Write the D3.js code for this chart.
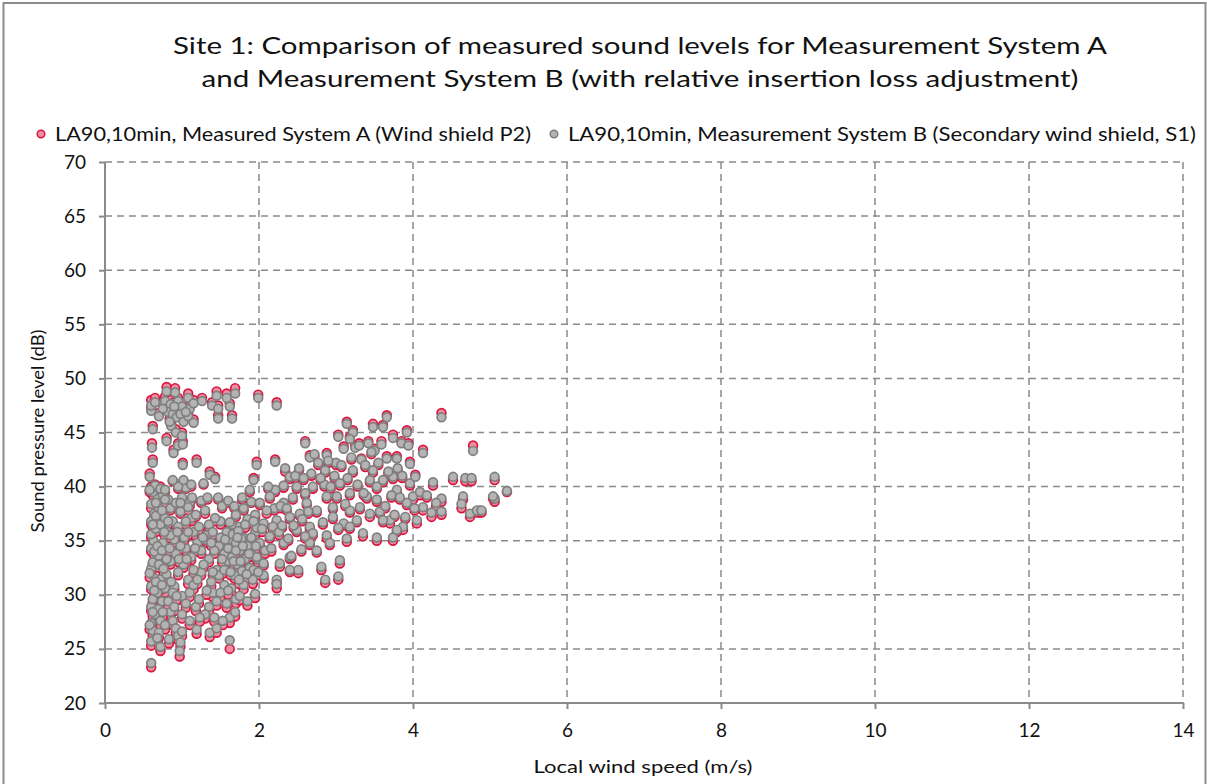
<!DOCTYPE html>
<html>
<head>
<meta charset="utf-8">
<script src="https://cdn.jsdelivr.net/npm/d3@7"></script>
<style>
  html, body { margin: 0; padding: 0; background: #fff; }
  svg { display: block; font-family: Lato, "Open Sans", sans-serif; }
</style>
</head>
<body>
<svg id="chart" width="1207" height="784"></svg>
<script>
// ---------------- DATA ----------------
const titleLines = [
  "Site 1: Comparison of measured sound  levels for Measurement System A",
  "and Measurement System B (with relative insertion loss adjustment)"
];
const seriesNames = [
  "LA90,10min, Measured System A (Wind shield P2)",
  "LA90,10min, Measurement System B  (Secondary wind shield, S1)"
];
const xTicks = [0, 2, 4, 6, 8, 10, 12, 14];
const yTicks = [20, 25, 30, 35, 40, 45, 50, 55, 60, 65, 70];
const xTitle = "Local wind speed (m/s)";
const yTitle = "Sound pressure  level (dB)";

// local wind speed (m/s) for each 10-minute period
const windSpeed = [
0.60,0.60,0.62,0.60,0.65,0.60,0.62,0.68,0.60,0.65,0.60,0.62,0.70,0.60,0.63,0.60,0.66,0.60,0.64,0.60,
0.68,0.62,0.60,0.65,0.58,0.62,0.61,0.62,0.60,0.60,0.65,0.72,0.70,0.72,0.70,0.74,0.72,0.70,0.75,0.72,
0.70,0.75,0.72,0.80,0.91,0.78,0.85,0.95,1.00,1.08,1.10,1.15,1.26,0.82,0.88,0.93,0.98,1.02,1.08,0.86,
0.92,1.00,0.80,0.95,1.15,0.89,1.01,1.01,1.19,1.36,1.43,1.39,1.45,1.58,1.69,1.47,1.62,1.47,1.65,1.99,
2.23,0.75,0.70,0.90,1.05,0.84,0.78,0.82,0.85,0.88,0.80,0.90,0.95,0.98,1.00,1.05,1.10,1.12,1.15,1.18,
0.92,0.85,0.80,0.78,0.82,0.85,0.88,0.92,0.95,0.98,0.97,1.00,0.90,0.95,1.00,1.02,1.05,1.08,1.10,1.12,
1.15,1.18,1.19,1.22,1.25,1.20,1.22,1.25,1.28,1.30,1.32,1.35,1.38,1.35,1.36,1.42,1.45,1.40,1.45,1.48,
1.50,1.52,1.55,1.58,1.60,1.62,1.65,1.68,1.70,1.62,1.62,1.69,1.55,1.60,1.65,1.70,1.75,1.80,1.85,1.90,
1.95,1.72,1.78,1.82,1.88,1.92,1.98,1.58,1.62,1.70,1.75,1.80,1.85,1.90,1.95,2.00,1.50,1.52,1.48,1.55,
1.66,1.73,1.77,1.64,1.75,1.80,1.85,1.95,1.97,2.21,1.93,2.60,2.66,2.34,3.14,3.66,3.48,3.61,3.92,3.22,
3.18,3.03,3.42,3.74,3.85,3.59,3.10,2.88,3.33,3.66,3.79,3.96,4.13,4.37,4.78,4.52,4.68,4.76,5.06,5.22,
4.26,4.65,4.63,4.74,4.87,5.06,4.37,4.37,4.24,4.13,4.00,3.96,4.09,4.05,3.87,3.74,3.53,3.35,3.14,2.88,
2.81,3.05,2.51,2.86,2.23,3.03,3.70,3.44,3.22,3.48,3.44,3.53,3.18,3.01,2.88,3.05,2.86,2.77,2.68,2.58,
2.49,2.40,2.32,2.21,2.14,2.01,2.32,2.62,2.75,2.53,2.40,2.23,2.06,1.97,2.14,2.32,2.49,2.66,2.96,3.10,
3.27,2.96,3.18,2.01,1.97,2.06,2.40,2.66,2.75,2.92,1.93,2.06,2.40,3.61,3.74,3.79,3.92,3.53,3.40,3.31,
3.61,3.79,3.18,2.27,2.42,4.03,4.83,4.89,5.04,2.23,2.55,2.70,2.85,3.00,3.25,3.50,3.80,2.60,2.20,2.45,
1.25,1.30,1.35,1.40,1.42,1.28,1.32,1.40,1.45,1.30,0.85,0.78,0.92,0.95,0.88,1.05,1.08,1.12,0.98,1.03,
0.80,0.75,0.78,0.83,0.88,1.00,1.05,1.10,1.15,1.60,
0.58,0.62,0.64,0.58,0.64,0.62,0.66,0.58,0.68,0.66,0.68,0.66,0.74,0.76,0.74,0.77,0.74,0.78,0.82,0.84,
0.86,0.90,0.93,0.96,0.94,0.98,1.02,1.06,1.08,1.13,1.17,1.20,1.23,1.27,1.33,1.38,1.43,1.47,1.50,1.53,
1.56,1.60,1.63,1.67,1.70,1.72,1.74,1.76,1.79,1.82,1.84,1.87,1.90,1.93,1.96,1.99,1.68,1.78,1.88,2.04,
2.08,2.10,2.12,2.16,2.18,2.26,2.28,2.30,2.36,2.38,2.44,2.47,2.52,2.56,2.60,2.64,2.70,2.72,2.80,2.83,
2.90,2.93,2.98,3.03,3.07,3.12,3.15,3.20,3.28,3.30,3.36,3.38,3.46,3.55,3.57,3.64,3.68,3.72,3.76,3.83,
3.86,3.90,3.94,4.02,4.18,4.30
];

// LA90,10min, Measurement System A (dB)
const levelSystemA = [
23.3,25.3,26.2,27.0,27.8,28.5,29.3,29.8,30.5,31.2,32.0,32.8,33.3,34.0,34.8,35.3,35.8,36.5,37.2,38.0,
38.6,39.2,40.0,40.2,41.2,42.5,44.0,45.6,47.3,48.0,48.2,24.8,26.0,27.2,28.4,29.0,31.0,32.5,34.5,36.2,
37.8,39.0,40.0,49.2,49.1,48.3,48.0,48.2,47.8,48.6,47.5,48.0,48.2,47.2,47.0,46.6,46.9,46.2,46.8,45.8,
45.3,45.0,44.5,44.0,46.2,43.4,44.2,42.2,42.5,41.4,40.9,47.8,48.8,48.6,49.1,47.5,47.7,46.6,46.6,48.5,
47.8,47.6,46.8,47.8,47.2,46.3,39.5,38.5,37.8,36.5,35.5,34.8,36.0,37.5,38.8,39.8,38.2,36.8,35.5,37.2,
33.5,32.8,31.5,30.2,29.0,28.0,27.2,26.5,25.8,25.2,24.3,26.2,30.5,31.8,29.5,32.5,34.0,31.0,29.8,33.2,
30.5,28.5,26.4,29.2,31.8,34.5,36.0,38.5,40.2,37.5,35.2,33.0,30.8,28.5,26.1,27.5,26.5,29.8,32.0,34.2,
36.5,38.0,30.5,28.8,32.8,34.8,36.2,31.5,29.2,25.0,27.4,28.0,33.5,34.0,33.2,34.5,33.8,35.0,34.2,33.5,
35.5,32.5,31.8,33.0,32.2,31.0,33.0,35.5,36.5,37.2,36.0,37.8,36.8,38.5,37.2,36.2,35.0,33.0,31.5,32.0,
35.3,35.6,34.9,30.2,29.5,30.5,29.0,29.7,42.3,42.5,40.8,44.2,42.9,41.4,46.0,46.6,45.8,45.7,45.2,45.2,
44.6,44.8,44.2,44.8,44.2,44.2,43.7,43.1,42.6,42.8,42.8,42.3,43.4,46.8,43.8,40.6,40.5,40.5,40.6,39.5,
40.1,38.8,38.0,37.2,37.6,38.6,38.6,37.4,37.2,37.8,38.8,40.1,39.2,36.6,36.0,35.0,35.0,35.4,34.9,35.2,
32.3,32.9,32.0,31.1,31.1,31.4,36.6,37.2,41.3,41.3,40.4,39.8,39.2,38.9,38.9,40.1,41.3,42.0,41.0,40.6,
39.8,40.7,39.9,39.5,38.9,38.3,38.3,38.3,37.6,37.3,37.0,36.7,36.4,36.0,35.2,34.6,35.8,36.1,37.0,36.4,
36.7,37.9,37.6,34.6,33.3,32.7,33.3,34.6,33.9,34.6,32.1,31.5,32.1,40.4,40.7,39.5,38.3,38.6,38.9,37.9,
36.7,35.8,36.1,32.6,33.4,41.1,37.6,37.6,38.9,30.6,34.0,35.5,40.0,42.0,43.8,43.5,41.5,39.2,37.8,36.2,
33.8,34.8,36.2,35.5,33.8,32.5,30.0,31.8,29.0,27.8,35.2,36.8,38.2,39.8,40.5,36.5,37.8,40.0,34.2,35.0,
33.0,28.0,26.8,25.5,29.8,27.8,28.8,27.2,32.0,38.5,
26.8,28.0,30.0,31.6,33.6,36.2,38.2,39.5,25.6,30.8,34.2,37.0,30.5,32.0,33.8,35.5,37.5,38.5,36.5,34.0,
30.8,28.5,29.5,33.0,35.5,38.2,40.5,33.0,35.5,38.8,34.0,31.0,27.5,35.0,38.8,34.5,36.8,38.8,29.8,27.2,
34.8,30.0,31.8,32.8,33.8,35.0,31.0,32.8,34.2,36.2,31.5,33.5,35.0,36.5,34.2,31.8,38.0,38.8,39.5,35.8,
33.8,37.5,39.8,34.0,36.0,35.5,38.0,36.2,37.8,35.0,38.8,40.8,41.5,36.8,35.2,37.5,39.8,42.8,40.6,36.5,
42.2,39.8,40.8,36.0,41.8,38.2,40.6,42.5,40.0,44.0,39.2,41.8,43.0,42.0,37.5,38.0,41.2,39.0,37.2,38.8,
40.8,37.0,44.0,37.8,39.0,38.2
];

// LA90,10min, Measurement System B (dB)
const levelSystemB = [
23.7,25.7,26.7,27.4,28.2,28.9,29.6,30.2,30.8,31.5,32.4,33.0,33.6,34.3,35.0,35.6,36.1,36.8,37.5,38.4,
38.9,39.5,39.8,40.1,40.9,42.2,43.6,45.3,47.0,47.5,47.8,25.2,26.5,27.6,28.7,29.4,31.4,32.8,34.8,36.5,
38.0,39.2,39.8,48.8,48.7,47.9,47.6,47.9,47.4,48.2,47.2,47.7,47.9,46.9,46.7,46.4,46.7,46.0,46.5,45.6,
45.0,44.7,44.2,43.8,45.9,43.1,43.9,42.0,42.2,41.1,40.7,47.5,48.4,48.2,48.6,47.2,47.4,46.3,46.3,48.2,
47.5,47.2,46.5,47.4,46.9,46.0,39.7,38.8,38.0,36.8,35.9,35.1,36.3,37.7,39.0,39.9,38.5,37.1,35.8,37.4,
33.8,33.1,31.9,30.6,29.4,28.4,27.6,26.9,26.2,25.6,24.8,26.6,30.8,32.1,29.9,32.8,34.3,31.4,30.2,33.5,
30.9,28.9,26.8,29.6,32.1,34.8,36.3,38.7,40.3,37.8,35.5,33.3,31.2,28.9,26.5,27.9,26.9,30.2,32.3,34.5,
36.8,38.2,30.9,29.2,33.1,35.1,36.5,31.8,29.6,25.8,27.9,28.4,33.8,34.3,33.5,34.8,34.1,35.3,34.5,33.8,
35.8,32.8,32.2,33.3,32.5,31.4,33.3,35.8,36.7,37.4,36.3,38.0,37.0,38.6,37.4,36.5,35.3,33.3,31.8,32.3,
35.6,35.9,35.2,30.6,29.9,30.9,29.4,30.1,42.0,42.3,40.6,44.0,42.7,41.7,45.8,46.4,45.5,45.5,45.0,45.0,
44.4,44.6,44.0,44.5,44.0,43.9,43.5,42.9,42.5,42.6,42.6,42.1,43.1,46.4,43.3,40.9,40.8,40.8,40.9,39.6,
40.4,39.1,38.4,37.5,37.8,38.9,38.9,37.7,37.6,38.1,39.1,40.3,39.5,36.9,36.3,35.3,35.3,35.7,35.2,35.5,
32.6,33.2,32.3,31.4,31.4,31.7,36.9,37.5,41.5,41.5,40.6,40.0,39.4,39.1,39.1,40.3,41.5,42.2,41.2,40.8,
40.0,40.9,40.1,39.7,39.1,38.5,38.5,38.5,37.8,37.5,37.2,36.9,36.6,36.2,35.4,34.8,36.0,36.3,37.2,36.6,
36.9,38.1,37.8,34.8,33.5,32.9,33.5,34.8,34.1,34.8,32.3,31.8,32.3,40.6,40.9,39.7,38.5,38.8,39.1,38.1,
36.9,36.0,36.3,32.9,33.6,40.9,37.8,37.8,39.1,31.0,34.2,35.7,40.2,42.2,43.6,43.3,41.7,39.4,38.0,36.4,
34.1,35.1,36.5,35.8,34.1,32.8,30.4,32.1,29.4,28.2,35.5,37.1,38.5,40.0,40.6,36.8,38.1,40.2,34.5,35.3,
33.3,28.4,27.2,25.9,30.2,28.2,29.2,27.6,32.3,38.7,
27.2,28.4,30.4,32.0,34.0,36.5,38.5,39.7,26.0,31.2,34.5,37.3,30.9,32.4,34.1,35.8,37.8,38.8,36.8,34.3,
31.2,28.9,29.9,33.3,35.8,38.5,40.6,33.3,35.8,39.0,34.3,31.4,27.9,35.3,39.0,34.8,37.1,39.0,30.2,27.6,
35.1,30.4,32.1,33.1,34.1,35.3,31.4,33.1,34.5,36.5,31.9,33.8,35.3,36.8,34.5,32.1,38.2,39.0,39.7,36.1,
34.1,37.8,40.0,34.3,36.3,35.8,38.2,36.4,38.0,35.2,39.0,41.0,41.7,37.0,35.4,37.7,40.0,43.0,40.8,36.7,
42.4,40.0,41.0,36.2,42.0,38.4,40.8,42.7,40.2,43.8,39.4,42.0,43.2,42.2,37.7,38.2,41.4,39.2,37.4,39.0,
41.0,37.2,43.8,38.0,39.2,38.5
];

// ---------------- CHART ----------------
const svg = d3.select("#chart");
const plot = { left: 105, right: 1183, top: 162, bottom: 703 };

const x = d3.scaleLinear().domain([0, 14]).range([plot.left, plot.right]);
const y = d3.scaleLinear().domain([20, 70]).range([plot.bottom, plot.top]);

const gridColor = "#8a8a8a";
const axisColor = "#8a8a8a";
const textColor = "#111";
const font = "Lato, 'Open Sans', sans-serif";

// outer chart border
svg.append("rect")
  .attr("x", 3.5).attr("y", 3).attr("width", 1202).attr("height", 790)
  .attr("fill", "#fff").attr("stroke", "#8c8c8c").attr("stroke-width", 2);

// title
const titleWidths = [934, 877];
svg.append("g").selectAll("text").data(titleLines).join("text")
  .attr("x", 640).attr("y", (d, i) => 54 + i * 33)
  .attr("text-anchor", "middle")
  .attr("font-size", 24).attr("fill", textColor)
  .attr("textLength", (d, i) => titleWidths[i])
  .attr("lengthAdjust", "spacingAndGlyphs")
  .text(d => d);

// gridlines
const grid = svg.append("g");
grid.selectAll("line.h").data(yTicks.filter(t => t > 20)).join("line")
  .attr("class", "h")
  .attr("x1", plot.left).attr("x2", plot.right)
  .attr("y1", d => y(d)).attr("y2", d => y(d))
  .attr("stroke", gridColor).attr("stroke-width", 1.5).attr("stroke-dasharray", "7,5");
grid.selectAll("line.v").data(xTicks.filter(t => t > 0)).join("line")
  .attr("class", "v")
  .attr("y1", plot.top).attr("y2", plot.bottom)
  .attr("x1", d => x(d)).attr("x2", d => x(d))
  .attr("stroke", gridColor).attr("stroke-width", 1.5).attr("stroke-dasharray", "7,5");

// axes
const xAxis = d3.axisBottom(x).tickValues(xTicks).tickSize(6).tickFormat(d3.format("d"));
const yAxis = d3.axisLeft(y).tickValues(yTicks).tickSize(6).tickPadding(13).tickFormat(d3.format("d"));

const gx = svg.append("g").attr("transform", `translate(0,${plot.bottom})`).call(xAxis);
const gy = svg.append("g").attr("transform", `translate(${plot.left},0)`).call(yAxis);
[gx, gy].forEach(g => {
  g.select(".domain").attr("stroke", axisColor).attr("stroke-width", 2);
  g.selectAll(".tick line").attr("stroke", axisColor).attr("stroke-width", 2);
  g.selectAll(".tick text").attr("fill", textColor).attr("font-size", 19)
    .attr("font-family", font);
});
gx.selectAll(".tick text").attr("dy", null).attr("y", 34);
gx.select(".domain").attr("d", `M${plot.left},0H${plot.right}`);
gy.select(".domain").attr("d", `M0,${plot.bottom}V${plot.top}`);

// axis titles
svg.append("text")
  .attr("x", 643).attr("y", 773)
  .attr("text-anchor", "middle").attr("font-size", 18).attr("fill", textColor)
  .attr("textLength", 219).attr("lengthAdjust", "spacingAndGlyphs")
  .text(xTitle);
svg.append("text")
  .attr("transform", `translate(44,431) rotate(-90)`)
  .attr("text-anchor", "middle").attr("font-size", 18).attr("fill", textColor)
  .attr("textLength", 203).attr("lengthAdjust", "spacingAndGlyphs")
  .text(yTitle);

// series
const styles = [
  { fill: "#ec8ea0", stroke: "#d91640" },
  { fill: "#b4b4b4", stroke: "#7f7f7f" }
];
const seriesValues = [levelSystemA, levelSystemB];

seriesValues.forEach((vals, si) => {
  svg.append("g").selectAll("circle").data(vals).join("circle")
    .attr("cx", (d, i) => x(windSpeed[i]))
    .attr("cy", d => y(d))
    .attr("r", 4.4)
    .attr("fill", styles[si].fill)
    .attr("stroke", styles[si].stroke)
    .attr("stroke-width", 1.7);
});

// legend
const legendMarkerX = [41, 554];
const legendTextWidths = [476, 628];
const leg = svg.append("g");
seriesNames.forEach((name, i) => {
  leg.append("circle").attr("cx", legendMarkerX[i]).attr("cy", 134).attr("r", 3.8)
    .attr("fill", styles[i].fill).attr("stroke", styles[i].stroke).attr("stroke-width", 1.5);
  leg.append("text").attr("x", legendMarkerX[i] + 14).attr("y", 141)
    .attr("font-size", 19).attr("fill", textColor)
    .attr("textLength", legendTextWidths[i]).attr("lengthAdjust", "spacingAndGlyphs")
    .text(name);
});
</script>
</body>
</html>
